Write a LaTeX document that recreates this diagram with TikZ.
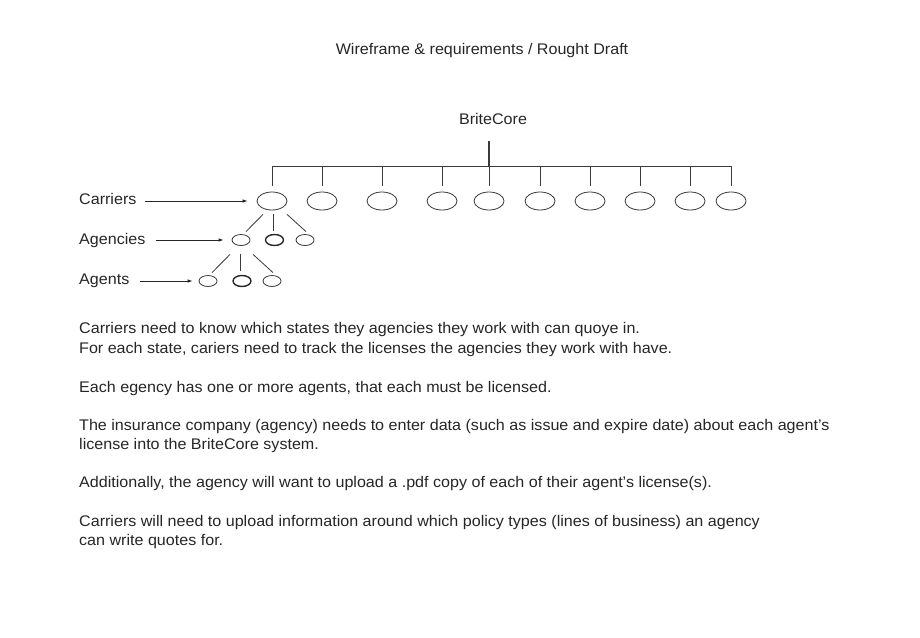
\documentclass[tikz,border=0pt]{standalone}
\usepackage{fontspec}
\setmainfont[FakeStretch=1.045]{Liberation Sans}
\usetikzlibrary{shapes.geometric,arrows.meta,calc}
\definecolor{ink}{HTML}{262626}
\definecolor{linec}{HTML}{3A3A3A}
\tikzset{
  txt/.style={anchor=base west,inner sep=0pt,text=ink,font=\fontsize{15.4}{17}\selectfont},
  ctxt/.style={anchor=base,inner sep=0pt,text=ink,font=\fontsize{15.4}{17}\selectfont},
  carrier/.style={ellipse,draw=linec,line width=0.8pt,minimum width=30pt,minimum height=18pt,inner sep=0pt},
  smallell/.style={ellipse,draw=linec,line width=0.8pt,minimum width=18pt,minimum height=11pt,inner sep=0pt},
  boldell/.style={smallell,line width=1.4pt,draw=ink},
  conn/.style={draw=linec,line width=0.8pt},
  pointer/.style={draw=ink,line width=0.8pt,-{Latex[length=5pt,width=3.5pt]}}
}
\begin{document}
\begin{tikzpicture}[x=1pt,y=-1pt]
\useasboundingbox (0,0) rectangle (920,637);
\fill[white] (0,0) rectangle (920,637);
% title
\node[ctxt] (title) at (482,54) {Wireframe \& requirements / Rought Draft};
\node[ctxt] (brite) at (493,124) {BriteCore};
% tree
\coordinate (bar) at (489,166);
\coordinate (stemtop) at (489,141);
\foreach \n/\x in {1/272,2/322,3/382,4/442,5/489,6/540,7/590,8/640,9/690,10/731}{
  \node[carrier] (c\n) at (\x,201) {};
}
\draw[conn,line width=2pt] (stemtop) -- (bar);
\draw[conn] (c1.north |- bar) -- (c10.north |- bar);
\foreach \n in {1,...,10}{
  \draw[conn] (c\n.north |- bar) -- ++(0,20);
}
% agencies
\node[smallell] (a1) at (241,240) {};
\node[boldell] (a2) at (274.5,240) {};
\node[smallell] (a3) at (305,240) {};
\draw[conn] ($(c1.south)+(-9,4)$) -- ($(a1.north)+(5,-2.5)$);
\draw[conn] ($(c1.south)+(1,4)$) -- ($(a2.north)+(-1.5,-2.5)$);
\draw[conn] ($(c1.south)+(15,4)$) -- ($(a3.north)+(1,-2.5)$);
% agents
\node[smallell] (g1) at (208,281) {};
\node[boldell] (g2) at (242,281) {};
\node[smallell] (g3) at (272,281) {};
\draw[conn] ($(a1.south)+(-11,8.5)$) -- ($(g1.north)+(4,-2.5)$);
\draw[conn] ($(a1.south)+(-1,8.5)$) -- ($(g2.north)+(-2,-3.5)$);
\draw[conn] ($(a1.south)+(12,8.5)$) -- ($(g3.north)+(1,-2.5)$);
% labels
\node[txt] (lc) at (79,204) {Carriers};
\node[txt] (la) at (79,244) {Agencies};
\node[txt] (lg) at (79,284) {Agents};
\draw[pointer,shorten <=8pt,shorten >=9pt] (lc.east |- c1) -- (c1.west);
\draw[pointer,shorten <=10pt,shorten >=8pt] (la.east |- a1) -- (a1.west);
\draw[pointer,shorten <=10pt,shorten >=6pt] (lg.east |- g1) -- (g1.west);
% body text
\node[txt] (t1) at (79,333) {Carriers need to know which states they agencies they work with can quoye in.};
\node[txt] (t2) at (79,353) {For each state, cariers need to track the licenses the agencies they work with have.};
\node[txt] (t3) at (79,392) {Each egency has one or more agents, that each must be licensed.};
\node[txt] (t4) at (79,430) {The insurance company (agency) needs to enter data (such as issue and expire date) about each agent’s};
\node[txt] (t5) at (79,449) {license into the BriteCore system.};
\node[txt] (t6) at (79,487) {Additionally, the agency will want to upload a .pdf copy of each of their agent’s license(s).};
\node[txt] (t7) at (79,526) {Carriers will need to upload information around which policy types (lines of business) an agency};
\node[txt] (t8) at (79,545) {can write quotes for.};
\end{tikzpicture}
\end{document}
